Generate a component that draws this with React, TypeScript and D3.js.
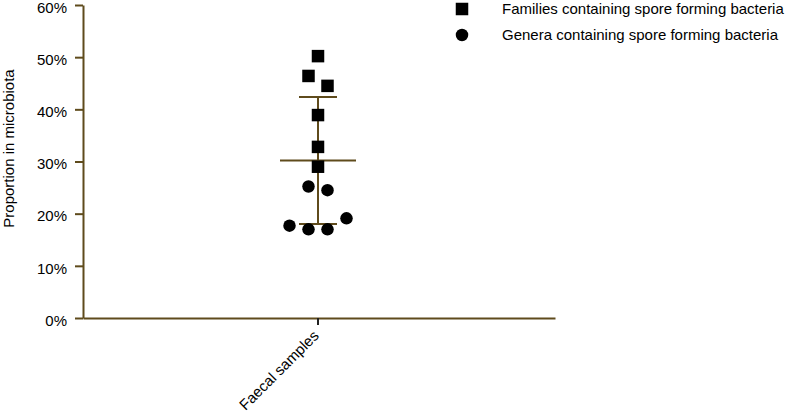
import React, { useEffect, useRef } from 'react';
import * as d3 from 'd3';

// proportions (%)
const families = [50.2, 46.4, 44.5, 38.9, 32.8, 29.0];
const genera = [25.2, 24.5, 19.1, 17.7, 17.0, 17.0];
// horizontal scatter of each point, in column steps
const familiesJitter = [0, -1, 1, 0, 0, 0];
const generaJitter = [-1, 1, 3, -3, -1, 1];
const categories = ['Faecal samples'];
const yTicks = [0, 10, 20, 30, 40, 50, 60];
const legendLabels = [
    'Families containing spore forming bacteria',
    'Genera containing spore forming bacteria',
];

const App = () => {
    const svgRef = useRef<SVGSVGElement>(null);

    useEffect(() => {
        const width = 787;
        const height = 414;
        const marginLeft = 83;
        const marginTop = 5;
        const plotBottom = 318;
        const plotRight = 555;
        const axisColor = '#5f4b1c';
        const font = 'Liberation Sans, Arial, sans-serif';

        const svg = d3.select(svgRef.current)
            .attr('width', width)
            .attr('height', height)
            .attr('viewBox', [0, 0, width, height])
            .style('display', 'block')
            .style('position', 'absolute')
            .style('left', '0px')
            .style('top', '0px')
            .style('font-family', font);
        svg.selectAll('*').remove();

        const x = d3.scalePoint()
            .domain(categories)
            .range([marginLeft, plotRight])
            .padding(1);

        const y = d3.scaleLinear()
            .domain([0, 60])
            .range([plotBottom, marginTop]);

        const step = 9.5;
        const cx = 318;

        const all = families.concat(genera);
        const mean = d3.mean(all) as number;
        const sd = d3.deviation(all) as number;

        // y axis
        const yAxis = svg.append('g')
            .attr('transform', `translate(${marginLeft},0)`)
            .call(d3.axisLeft(y).tickValues(yTicks).tickFormat(d => `${d}%`).tickSize(8).tickSizeOuter(0));
        yAxis.select('.domain').attr('stroke', axisColor).attr('stroke-width', 2);
        yAxis.selectAll('.tick line').attr('stroke', axisColor).attr('stroke-width', 2);
        yAxis.selectAll('.tick text')
            .attr('x', -16)
            .attr('dy', '0.48em')
            .attr('fill', '#000')
            .style('font-size', '15px')
            .style('font-family', font);

        // x axis
        const xAxis = svg.append('g')
            .attr('transform', `translate(0,${plotBottom})`)
            .call(d3.axisBottom(x).tickSize(7).tickSizeOuter(0));
        xAxis.select('.domain').attr('stroke', axisColor).attr('stroke-width', 2);
        xAxis.selectAll('.tick')
            .attr('transform', `translate(${cx},0)`);
        xAxis.selectAll('.tick line').attr('stroke', '#222').attr('stroke-width', 2);
        xAxis.selectAll('.tick text')
            .attr('text-anchor', 'end')
            .attr('transform', 'translate(-2,15) rotate(-45)')
            .attr('y', 0)
            .attr('dy', '0.35em')
            .attr('fill', '#000')
            .style('font-size', '15px')
            .style('font-family', font);

        // y title
        svg.append('text')
            .attr('transform', `translate(14,${(y(0) + y(60)) / 2 - 13}) rotate(-90)`)
            .attr('text-anchor', 'middle')
            .style('font-size', '15px')
            .text('Proportion in microbiota');

        // mean +/- sd
        const g = svg.append('g').attr('stroke', axisColor).attr('stroke-width', 2);
        g.append('line').attr('x1', cx).attr('x2', cx).attr('y1', y(mean + sd)).attr('y2', y(mean - sd));
        g.append('line').attr('x1', cx - 19).attr('x2', cx + 19).attr('y1', y(mean + sd)).attr('y2', y(mean + sd));
        g.append('line').attr('x1', cx - 19).attr('x2', cx + 19).attr('y1', y(mean - sd)).attr('y2', y(mean - sd));
        g.append('line').attr('x1', cx - 38).attr('x2', cx + 38).attr('y1', y(mean)).attr('y2', y(mean));

        const size = 12.5;
        svg.append('g')
            .selectAll('rect')
            .data(families)
            .join('rect')
            .attr('x', (d, i) => cx + familiesJitter[i] * step - size / 2)
            .attr('y', d => y(d) - size / 2)
            .attr('width', size)
            .attr('height', size)
            .attr('fill', '#000');

        svg.append('g')
            .selectAll('circle')
            .data(genera)
            .join('circle')
            .attr('cx', (d, i) => cx + generaJitter[i] * step)
            .attr('cy', d => y(d))
            .attr('r', size / 2)
            .attr('fill', '#000');

        // legend
        const legend = svg.append('g').attr('transform', 'translate(462,9)');
        legend.append('rect')
            .attr('x', -size / 2).attr('y', -size / 2)
            .attr('width', size).attr('height', size).attr('fill', '#000');
        legend.append('circle')
            .attr('cx', 0).attr('cy', 26).attr('r', size / 2).attr('fill', '#000');
        legend.selectAll('text')
            .data(legendLabels)
            .join('text')
            .attr('x', 40)
            .attr('y', (d, i) => i * 26)
            .attr('dy', '0.35em')
            .style('font-size', '15px')
            .text(d => d);
    }, []);

    return <svg ref={svgRef}></svg>;
};

export default App;
